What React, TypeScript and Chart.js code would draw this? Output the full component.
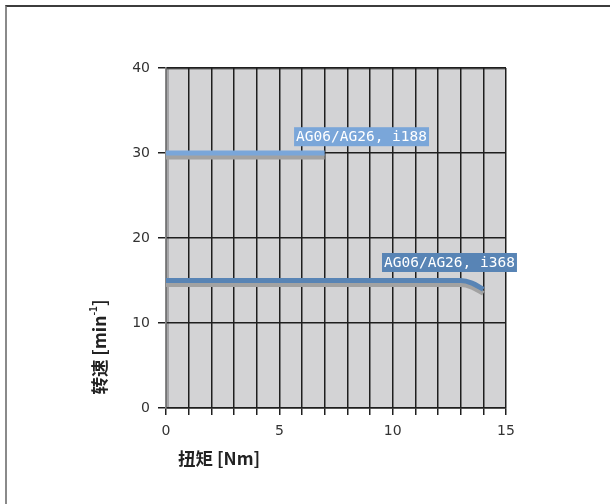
import React, { useEffect, useRef } from "react";
import { Chart, registerables } from "chart.js";

Chart.register(...registerables);

// Data
const torqueI188 = [0, 7];
const speedI188 = [30, 30];
const torqueI368 = [0, 13, 13.5, 14];
const speedI368 = [15, 15, 14.7, 13.95];
const seriesNames = ["AG06/AG26, i188", "AG06/AG26, i368"];
const xTickLabels = [0, 5, 10, 15];
const yTickLabels = [0, 10, 20, 30, 40];
const xTitle = "扭矩 [Nm]";
const yTitleMain = "转速 [min";
const yTitleSup = "-1";
const yTitleEnd = "]";

const colorI188 = "#7aa6d9";
const colorI368 = "#5884b5";

// label anchors (data coords: left, bottom)
const labelAnchors = [
  { x: 5.65, y: 30.8 },
  { x: 9.53, y: 16.0 },
];

export default function App() {
  const ref = useRef<HTMLCanvasElement | null>(null);

  useEffect(() => {
    if (!ref.current) return;

    const bgPlugin = {
      id: "bgPlugin",
      beforeDraw(chart: any) {
        const { ctx, chartArea } = chart;
        const { left, top, right, bottom } = chartArea;
        ctx.save();
        ctx.fillStyle = "#d3d3d5";
        ctx.fillRect(left, top, right - left, bottom - top);
        ctx.fillStyle = "#a5a5a7";
        ctx.fillRect(left, top, 3, bottom - top);
        ctx.fillStyle = "#6a6a6a";
        ctx.fillRect(left, top - 1, right - left, 2.5);
        ctx.restore();
      },
    };

    const shadowPlugin = {
      id: "shadowPlugin",
      beforeDatasetDraw(chart: any) {
        const ctx = chart.ctx;
        ctx.save();
        ctx.shadowColor = "#a2a2a2";
        ctx.shadowOffsetX = 0;
        ctx.shadowOffsetY = 4;
        ctx.shadowBlur = 0;
      },
      afterDatasetDraw(chart: any) {
        chart.ctx.restore();
      },
    };

    const textPlugin = {
      id: "textPlugin",
      afterDraw(chart: any) {
        const ctx = chart.ctx;
        const xs = chart.scales.x;
        const ys = chart.scales.y;
        ctx.save();
        // series labels
        ctx.font = "14.5px 'DejaVu Sans Mono'";
        ctx.textBaseline = "middle";
        ctx.textAlign = "left";
        const cols = [colorI188, colorI368];
        seriesNames.forEach((name, i) => {
          const px = xs.getPixelForValue(labelAnchors[i].x);
          const py = ys.getPixelForValue(labelAnchors[i].y);
          const w = ctx.measureText(name).width + 4;
          ctx.fillStyle = cols[i];
          ctx.fillRect(px, py - 19, w, 19);
          ctx.fillStyle = "#ffffff";
          ctx.fillText(name, px + 2, py - 9);
        });
        // x title
        ctx.font = "bold 17.5px 'Noto Sans CJK SC'";
        ctx.fillStyle = "#222";
        ctx.textBaseline = "middle";
        ctx.fillText(xTitle, 178, 458);
        // y title
        ctx.translate(99, 347);
        ctx.rotate(-Math.PI / 2);
        const f1 = "bold 17.5px 'Noto Sans CJK SC'";
        const f2 = "bold 10px 'Noto Sans CJK SC'";
        ctx.font = f1;
        const w1 = ctx.measureText(yTitleMain).width;
        const w3 = ctx.measureText(yTitleEnd).width;
        ctx.font = f2;
        const w2 = ctx.measureText(yTitleSup).width;
        let x0 = -(w1 + w2 + w3) / 2;
        ctx.font = f1;
        ctx.fillText(yTitleMain, x0, 0);
        x0 += w1;
        ctx.font = f2;
        ctx.fillText(yTitleSup, x0, -6);
        x0 += w2;
        ctx.font = f1;
        ctx.fillText(yTitleEnd, x0, 0);
        ctx.restore();
      },
    };

    const chart = new Chart(ref.current, {
      type: "line",
      data: {
        datasets: [
          {
            label: seriesNames[0],
            data: torqueI188.map((x, i) => ({ x, y: speedI188[i] })),
            borderColor: colorI188,
            borderWidth: 5,
            pointRadius: 0,
            borderCapStyle: "butt",
          },
          {
            label: seriesNames[1],
            data: torqueI368.map((x, i) => ({ x, y: speedI368[i] })),
            borderColor: colorI368,
            borderWidth: 5,
            pointRadius: 0,
            cubicInterpolationMode: "monotone",
            borderCapStyle: "butt",
          },
        ],
      },
      options: {
        animation: false,
        responsive: false,
        devicePixelRatio: 1,
        layout: { padding: { left: 0, top: 68, right: 104, bottom: 0 } },
        plugins: {
          legend: { display: false },
          tooltip: { enabled: false },
        },
        scales: {
          x: {
            type: "linear",
            min: 0,
            max: 15,
            afterFit(scale: any) {
              scale.height = 96;
            },
            afterBuildTicks(scale: any) {
              const t = [];
              for (let v = 0; v <= 15; v++) t.push({ value: v });
              scale.ticks = t;
            },
            ticks: {
              autoSkip: false,
              maxRotation: 0,
              padding: 8,
              color: "#333",
              font: { family: "'DejaVu Sans'", size: 14 },
              callback: (v: any) => (xTickLabels.includes(Number(v)) ? String(v) : ""),
            },
            grid: {
              color: "#1e1e1e",
              lineWidth: 1.5,
              tickLength: 7,
              drawTicks: true,
            },
            border: { color: "#1e1e1e", width: 1.5 },
          },
          y: {
            type: "linear",
            min: 0,
            max: 40,
            afterFit(scale: any) {
              scale.width = 166;
            },
            afterBuildTicks(scale: any) {
              scale.ticks = yTickLabels.map((v) => ({ value: v }));
            },
            ticks: {
              padding: 8,
              color: "#333",
              font: { family: "'DejaVu Sans'", size: 14 },
            },
            grid: {
              color: "#1e1e1e",
              lineWidth: 1.5,
              tickLength: 8,
            },
            border: { color: "#888", width: 1.5 },
          },
        },
      },
      plugins: [bgPlugin, shadowPlugin, textPlugin],
    } as any);

    return () => chart.destroy();
  }, []);

  return (
    <div
      style={{
        position: "fixed",
        left: 0,
        top: 0,
        width: 610,
        height: 504,
        background: "#fff",
        overflow: "hidden",
      }}
    >
      <div
        style={{
          position: "absolute",
          left: 5,
          top: 5,
          width: 700,
          height: 600,
          borderTop: "2px solid #3c3c3c",
          borderLeft: "2px solid #8a8a8a",
        }}
      />
      <canvas
        ref={ref}
        width={610}
        height={504}
        style={{ position: "absolute", left: 0, top: 0, width: 610, height: 504 }}
      />
    </div>
  );
}
